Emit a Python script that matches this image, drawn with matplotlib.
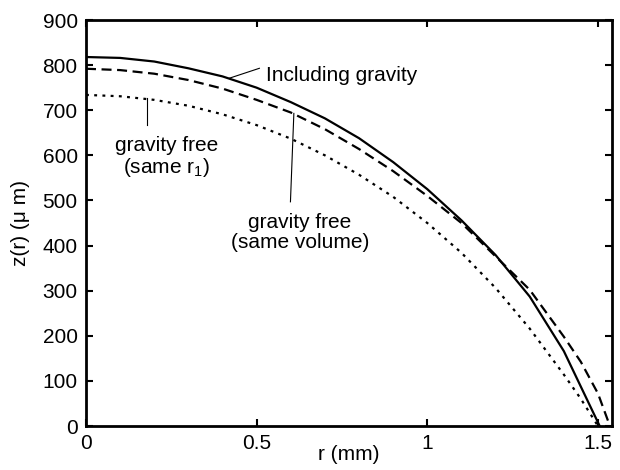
import numpy as np
import matplotlib
matplotlib.use("Agg")
from matplotlib import pyplot as plt

# drop profiles z(r), r in mm, z in micrometres
r = [0, 0.1, 0.2, 0.3, 0.4, 0.5, 0.6, 0.7, 0.8, 0.9, 1.0, 1.1, 1.2, 1.3, 1.4, 1.505]
z_gravity = [818, 816, 808, 793, 775, 750, 718, 682, 638, 585, 525, 456, 379, 287, 166, 0]

r_vol = [0, 0.1, 0.2, 0.3, 0.4, 0.5, 0.6, 0.7, 0.8, 0.9, 1.0, 1.1, 1.2, 1.3, 1.4, 1.45, 1.5, 1.535]
z_vol = [792, 789, 781, 767, 748, 723, 695, 658, 614, 565, 510, 450, 376, 302, 198, 142, 72, 0]

r_r1 = [0, 0.1, 0.2, 0.3, 0.4, 0.5, 0.6, 0.7, 0.8, 0.9, 1.0, 1.1, 1.2, 1.3, 1.4, 1.45, 1.5]
z_r1 = [734, 731, 723, 710, 691, 667, 637, 600, 557, 508, 450, 384, 306, 216, 114, 60, 0]

xticks = [0, 0.5, 1, 1.5]
xticklabels = ["0", "0.5", "1", "1.5"]
yticks = list(range(0, 901, 100))

plt.rcParams['font.family'] = ['Liberation Sans', 'DejaVu Sans']
fs = 15

fig = plt.figure(figsize=(6.2, 4.7), dpi=100)
ax = fig.add_axes([0.1387, 0.0936, 0.8489, 0.8638])

ax.plot(r, z_gravity, color='k', lw=1.6, solid_joinstyle='miter')
ax.plot(r_vol, z_vol, color='k', lw=1.6, dashes=(4.5, 2.5))
ax.plot(r_r1, z_r1, color='k', lw=1.6, dashes=(1.3, 2.4))

ax.set_xlim(0, 1.542)
ax.set_ylim(0, 900)
ax.set_xticks(xticks)
ax.set_xticklabels(xticklabels)
ax.set_yticks(yticks)
ax.tick_params(direction='in', length=5, width=1.5, labelsize=fs, pad=6,
               top=True, right=True)
for s in ax.spines.values():
    s.set_linewidth(2)

ax.set_xlabel("r (mm)", fontsize=fs)
ax.xaxis.set_label_coords(0.5, -0.047)
ax.set_ylabel("z(r) (\u03bc m)", fontsize=fs)
ax.yaxis.set_label_coords(-0.106, 0.5)

# annotations
ax.plot([0.420, 0.508], [771, 793], color='k', lw=0.8)
ax.text(0.527, 765, "Including gravity", fontsize=fs, va='baseline', ha='left')

ax.plot([0.179, 0.179], [727, 667], color='k', lw=0.8)
ax.text(0.237, 610, "gravity free", fontsize=fs, va='baseline', ha='center')
ax.text(0.237, 561, "(same $\\mathregular{r_1}$)", fontsize=fs, va='baseline', ha='center')

ax.plot([0.609, 0.599], [693, 497], color='k', lw=0.8)
ax.text(0.627, 438, "gravity free", fontsize=fs, va='baseline', ha='center')
ax.text(0.627, 394, "(same volume)", fontsize=fs, va='baseline', ha='center')

fig.savefig("out.png", dpi=100)
